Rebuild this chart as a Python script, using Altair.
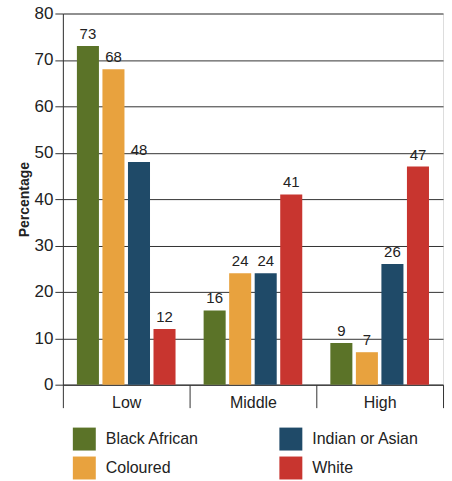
import altair as alt
import pandas as pd

groups = ["Low", "Middle", "High"]
series = ["Black African", "Coloured", "Indian or Asian", "White"]
values = {
    "Black African": [73, 16, 9],
    "Coloured": [68, 24, 7],
    "Indian or Asian": [48, 24, 26],
    "White": [12, 41, 47],
}
colors = {
    "Black African": "#5b7328",
    "Coloured": "#e8a23e",
    "Indian or Asian": "#1f4a68",
    "White": "#c8352f",
}

rows = []
for s in series:
    for g, v in zip(groups, values[s]):
        rows.append({"group": g, "series": s, "value": v})
df = pd.DataFrame(rows)

FONT = "Liberation Sans"
NARROW = "Liberation Sans Narrow, Liberation Sans"

x = alt.X("group:N", sort=groups, title=None,
          scale=alt.Scale(paddingInner=0, paddingOuter=0),
          axis=alt.Axis(labelAngle=0, labelFontSize=16, labelColor="#222",
                        labelPadding=-13, tickBand="extent", tickSize=23,
                        tickColor="#333", domainColor="#333", labelFont=FONT))
xo = alt.XOffset("series:N", sort=series,
                 scale=alt.Scale(paddingInner=0.137, paddingOuter=0.55))
y = alt.Y("value:Q", title="Percentage",
          scale=alt.Scale(domain=[0, 80]),
          axis=alt.Axis(values=list(range(0, 81, 10)), labelFontSize=17,
                        labelColor="#222", tickSize=8, tickColor="#333",
                        gridColor="#333", gridWidth=1, domainColor="#333",
                        titleFontSize=14, titleFont=FONT, titleFontWeight="bold",
                        titleColor="#222", labelFont=NARROW, titlePadding=3,
                        labelPadding=2))

bars = alt.Chart(df).mark_bar().encode(
    x=x, xOffset=xo, y=y,
    color=alt.Color("series:N",
                    scale=alt.Scale(domain=series,
                                    range=[colors[s] for s in series]),
                    legend=alt.Legend(title=None, orient="none", legendX=10,
                                      legendY=415, columns=2, columnPadding=80,
                                      rowPadding=6, symbolType="square",
                                      symbolSize=529, symbolStrokeWidth=0,
                                      symbolOpacity=1, labelFontSize=16,
                                      labelFont=FONT, labelColor="#222",
                                      labelOffset=10)),
)

labels = alt.Chart(df).mark_text(dy=-12, fontSize=15, font=FONT, color="#222").encode(
    x=x, xOffset=xo, y=y, text="value:Q"
)

chart = alt.layer(bars, labels).properties(
    width=381, height=372,
    padding={"left": 17, "top": 4, "right": 8, "bottom": 5},
).configure_view(
    fill="#eef0f5", stroke="#333", strokeWidth=1
).configure(background="white")

chart.save("out.html", embed_options={"renderer": "svg", "actions": False})
